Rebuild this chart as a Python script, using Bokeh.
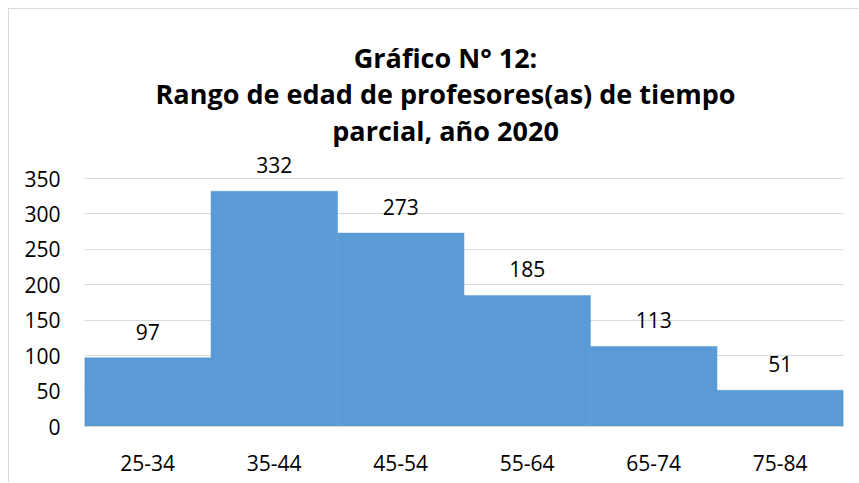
from bokeh.plotting import figure
from bokeh.models import ColumnDataSource, FactorRange, Range1d, FixedTicker, LabelSet, Label
from bokeh.core.properties import value
from bokeh.embed import file_html
from bokeh.resources import INLINE

categories = ["25-34", "35-44", "45-54", "55-64", "65-74", "75-84"]
counts = [97, 332, 273, 185, 113, 51]
y_ticks = [0, 50, 100, 150, 200, 250, 300, 350]
title_lines = ["Gráfico N° 12:", "Rango de edad de profesores(as) de tiempo", "parcial, año 2020"]

source = ColumnDataSource(dict(cat=categories, val=counts, lab=[str(v) for v in counts]))

# frame extends upward to hold the title (annotations are clipped to the frame)
p = figure(x_range=FactorRange(*categories, range_padding=0), y_range=Range1d(0, 587.1),
           width=850, height=474, output_backend="svg", toolbar_location=None,
           min_border_left=75, min_border_right=16, min_border_top=1, min_border_bottom=57)
p.styles = {"margin-left": "8px", "margin-top": "8px",
            "border-left": "1px solid #d9d9d9", "border-top": "1px solid #d9d9d9"}
p.outline_line_color = None
p.background_fill_color = "white"
p.border_fill_color = "white"

p.vbar(x="cat", top="val", width=1.0, source=source, fill_color="#5B9BD5",
       line_color="#5B9BD5", line_width=0.5)

p.xgrid.grid_line_color = None
p.ygrid.grid_line_color = "#d9d9d9"
p.ygrid.grid_line_width = 1
p.yaxis.ticker = FixedTicker(ticks=y_ticks)
p.ygrid.ticker = FixedTicker(ticks=y_ticks)
for ax in (p.xaxis, p.yaxis):
    ax.major_tick_line_color = None
    ax.minor_tick_line_color = None
    ax.major_label_text_font = "Open Sans"
    ax.major_label_text_font_size = "21px"
    ax.major_label_text_color = "#000000"
p.yaxis.axis_line_color = None
p.xaxis.axis_line_color = "#d9d9d9"
p.yaxis.major_label_standoff = 18
p.xaxis.major_label_standoff = 22

labels = LabelSet(x="cat", y="val", text="lab", source=source, text_align="center",
                  text_baseline="alphabetic", y_offset=18, text_font=value("Open Sans"),
                  text_font_size="21px", text_color="#000000")
p.add_layout(labels)

title_y = [520.8, 470.0, 417.7]
for t, yb in zip(title_lines, title_y):
    p.add_layout(Label(x=2.854, y=yb, text=t,
                       text_align="center", text_baseline="alphabetic",
                       text_font="Open Sans", text_font_style="bold",
                       text_font_size="27px", text_color="#000000"))

open("out.html", "w").write(file_html(p, INLINE))
